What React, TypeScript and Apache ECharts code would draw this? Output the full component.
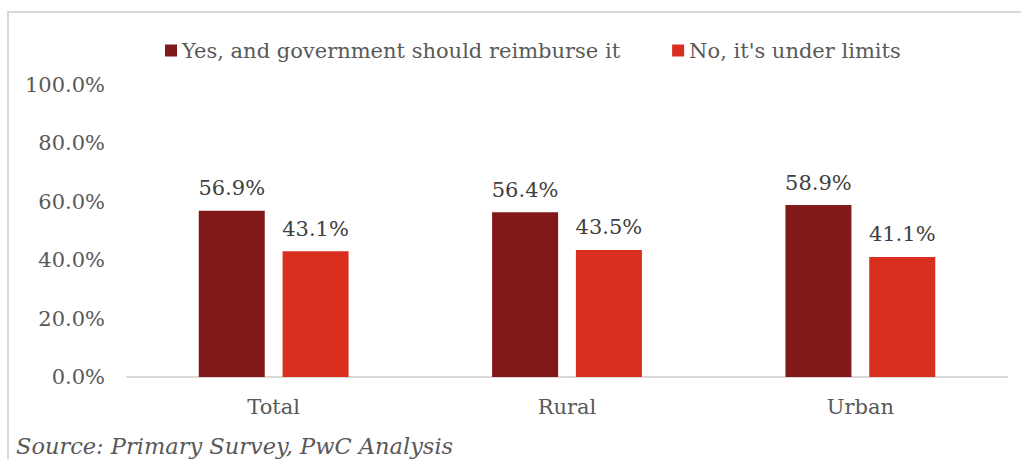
import React, { useEffect, useRef } from "react";
import * as echarts from "echarts";

const categories = ["Total", "Rural", "Urban"];
const yesValues = [56.9, 56.4, 58.9];
const noValues = [43.1, 43.5, 41.1];
const seriesNames = ["Yes, and government should reimburse it", "No, it's under limits"];
const sourceText = "Source: Primary Survey, PwC Analysis";

const FONT = "DejaVu Serif";

export default function App() {
  const ref = useRef<HTMLDivElement>(null);
  useEffect(() => {
    if (!ref.current) return;
    const chart = echarts.init(ref.current, null, { renderer: "svg" });
    const label = {
      show: true,
      position: "top",
      distance: 12,
      color: "#404040",
      fontFamily: FONT,
      fontSize: 21,
      formatter: (p: any) => p.value.toFixed(1) + "%",
    };
    chart.setOption({
      animation: false,
      backgroundColor: "#ffffff",
      legend: {
        top: 35,
        left: 160,
        itemWidth: 12,
        itemHeight: 12,
        itemGap: 52,
        icon: "rect",
        textStyle: { color: "#595959", fontFamily: FONT, fontSize: 21 },
        data: seriesNames,
      },
      grid: { left: 127, right: 14, top: 85, bottom: 82, containLabel: false },
      xAxis: {
        type: "category",
        data: categories,
        axisLine: { lineStyle: { color: "#D9D9D9", width: 2 } },
        axisTick: { show: false },
        axisLabel: { color: "#595959", fontFamily: FONT, fontSize: 21, margin: 19 },
      },
      yAxis: {
        type: "value",
        min: 0,
        max: 100,
        interval: 20,
        splitLine: { show: false },
        axisLine: { show: false },
        axisTick: { show: false },
        axisLabel: {
          color: "#595959",
          fontFamily: FONT,
          fontSize: 21,
          margin: 22,
          formatter: (v: number) => v.toFixed(1) + "%",
        },
      },
      graphic: [
        {
          type: "rect",
          shape: { x: 8, y: 12, width: 1100, height: 600 },
          style: { fill: "none", stroke: "#D9D9D9", lineWidth: 2 },
          silent: true,
        },
        {
          type: "text",
          left: 16,
          top: 434,
          style: {
            text: sourceText,
            fill: "#595959",
            font: `italic 22.5px "${FONT}"`,
          },
        },
      ],
      series: [
        {
          name: seriesNames[0],
          type: "bar",
          data: yesValues,
          barWidth: 66,
          barGap: "27%",
          itemStyle: { color: "#811919" },
          label,
        },
        {
          name: seriesNames[1],
          type: "bar",
          data: noValues,
          barWidth: 66,
          itemStyle: { color: "#D92F1E" },
          label,
        },
      ],
    });
    return () => chart.dispose();
  }, []);
  return (
    <div
      ref={ref}
      style={{ position: "fixed", left: 0, top: 0, width: 1021, height: 459 }}
    />
  );
}
